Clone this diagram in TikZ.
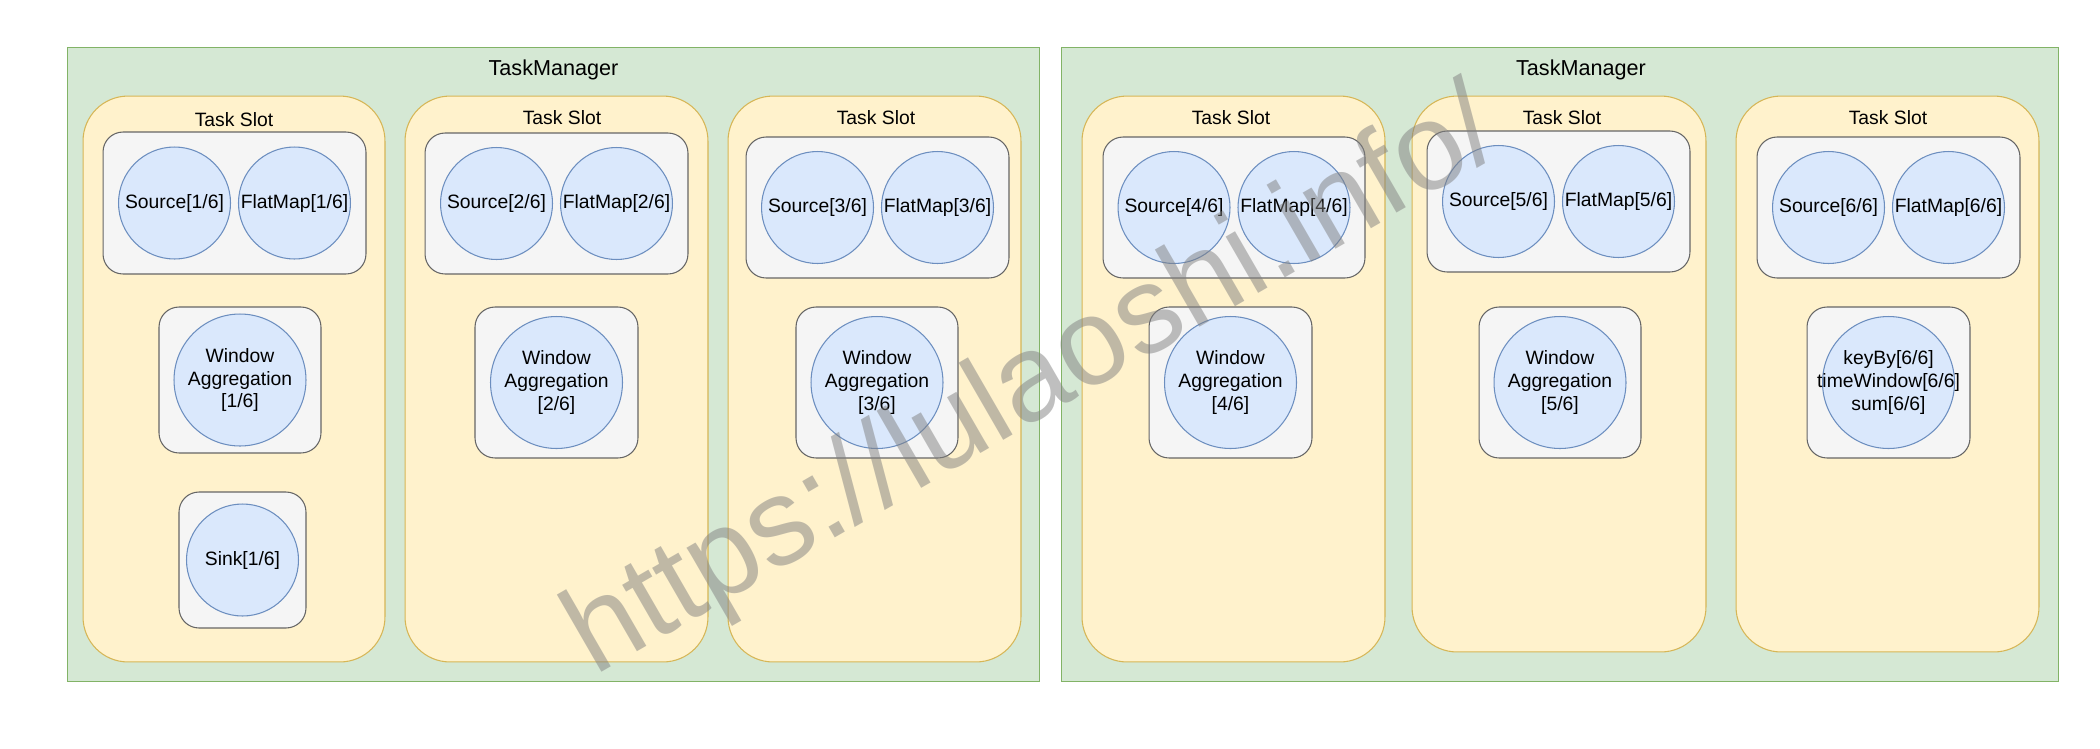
\documentclass[tikz,border=0pt]{standalone}
\usepackage{fontspec}
\setmainfont{Liberation Sans}
\usetikzlibrary{positioning}

\definecolor{tmfill}{HTML}{D5E8D4}
\definecolor{tmline}{HTML}{82B366}
\definecolor{slotfill}{HTML}{FFF2CC}
\definecolor{slotline}{HTML}{D6B656}
\definecolor{grpfill}{HTML}{F5F5F5}
\definecolor{grpline}{HTML}{666666}
\definecolor{opfill}{HTML}{DAE8FC}
\definecolor{opline}{HTML}{6C8EBF}

\tikzset{
    manager/.style={rectangle, draw=tmline, fill=tmfill, line width=0.6pt},
    slot/.style={rectangle, rounded corners=0.9cm, draw=slotline, fill=slotfill, line width=0.6pt},
    group/.style={rectangle, rounded corners=0.4cm, draw=grpline, fill=grpfill, line width=0.6pt},
    op/.style={circle, draw=opline, fill=opfill, line width=0.6pt, minimum size=2.24cm, inner sep=-0.3cm, align=center, font=\fontsize{11}{13}\selectfont},
    win/.style={op, minimum size=2.64cm},
    caption/.style={inner sep=0pt, anchor=base, font=\fontsize{11}{13}\selectfont},
    title/.style={inner sep=0pt, anchor=base, font=\fontsize{12.3}{14}\selectfont},
    stamp/.style={inner sep=0pt, text=gray, text opacity=0.5, font=\fontsize{70}{70}\selectfont}
}

\begin{document}
\begin{tikzpicture}[x=0.02cm, y=-0.02cm]
        \useasboundingbox (0, 0) rectangle (2100, 748);

        % two task managers
        \node[manager, minimum width=19.46cm, minimum height=12.7cm] (tm1) at (553.5, 364.5) {};
        \node[manager, minimum width=19.96cm, minimum height=12.7cm] (tm2) at (1560, 364.5) {};
        \node[title] (tm1label) at (553.5, 75) {TaskManager};
        \node[title] (tm2label) at (1581, 75) {TaskManager};

        % task slots
        \node[slot, minimum width=6.04cm, minimum height=11.32cm] (slot1) at (234, 379) {};
        \node[slot, minimum width=6.06cm, minimum height=11.32cm] (slot2) at (556.5, 379) {};
        \node[slot, minimum width=5.86cm, minimum height=11.32cm] (slot3) at (874.5, 379) {};
        \node[slot, minimum width=6.06cm, minimum height=11.32cm] (slot4) at (1233.5, 379) {};
        \node[slot, minimum width=5.88cm, minimum height=11.12cm] (slot5) at (1559, 374) {};
        \node[slot, minimum width=6.06cm, minimum height=11.12cm] (slot6) at (1887.5, 374) {};
        \node[caption] (slot1label) at (234, 126) {Task Slot};
        \node[caption] (slot2label) at (562, 124) {Task Slot};
        \node[caption] (slot3label) at (876, 124) {Task Slot};
        \node[caption] (slot4label) at (1231, 124) {Task Slot};
        \node[caption] (slot5label) at (1562, 124) {Task Slot};
        \node[caption] (slot6label) at (1888, 124) {Task Slot};

        % source and flatmap
        \node[group, minimum width=5.26cm, minimum height=2.84cm] (grp1) at (234.5, 203) {};
        \node[group, minimum width=5.26cm, minimum height=2.82cm] (grp2) at (556.5, 203.5) {};
        \node[group, minimum width=5.26cm, minimum height=2.82cm] (grp3) at (877.5, 207.5) {};
        \node[group, minimum width=5.24cm, minimum height=2.82cm] (grp4) at (1234, 207.5) {};
        \node[group, minimum width=5.26cm, minimum height=2.82cm] (grp5) at (1558.5, 201.5) {};
        \node[group, minimum width=5.26cm, minimum height=2.82cm] (grp6) at (1888.5, 207.5) {};
        \node[op] (src1) at ([xshift=-1.2cm]grp1.center) {Source[1/6]};
        \node[op] (flat1) at ([xshift=1.2cm]grp1.center) {FlatMap[1/6]};
        \node[op] (src2) at ([xshift=-1.2cm]grp2.center) {Source[2/6]};
        \node[op] (flat2) at ([xshift=1.2cm]grp2.center) {FlatMap[2/6]};
        \node[op] (src3) at ([xshift=-1.2cm]grp3.center) {Source[3/6]};
        \node[op] (flat3) at ([xshift=1.2cm]grp3.center) {FlatMap[3/6]};
        \node[op] (src4) at ([xshift=-1.2cm]grp4.center) {Source[4/6]};
        \node[op] (flat4) at ([xshift=1.2cm]grp4.center) {FlatMap[4/6]};
        \node[op] (src5) at ([xshift=-1.2cm]grp5.center) {Source[5/6]};
        \node[op] (flat5) at ([xshift=1.2cm]grp5.center) {FlatMap[5/6]};
        \node[op] (src6) at ([xshift=-1.2cm]grp6.center) {Source[6/6]};
        \node[op] (flat6) at ([xshift=1.2cm]grp6.center) {FlatMap[6/6]};

        % window aggregation
        \node[group, minimum width=3.24cm, minimum height=2.92cm] (wbox1) at (240, 380) {};
        \node[group, minimum width=3.26cm, minimum height=3.02cm] (wbox2) at (556.5, 382.5) {};
        \node[group, minimum width=3.24cm, minimum height=3.02cm] (wbox3) at (877, 382.5) {};
        \node[group, minimum width=3.26cm, minimum height=3.02cm] (wbox4) at (1230.5, 382.5) {};
        \node[group, minimum width=3.24cm, minimum height=3.02cm] (wbox5) at (1560, 382.5) {};
        \node[group, minimum width=3.26cm, minimum height=3.02cm] (wbox6) at (1888.5, 382.5) {};
        \node[win] (win1) at (wbox1.center) {Window\\Aggregation\\{[1/6]}};
        \node[win] (win2) at (wbox2.center) {Window\\Aggregation\\{[2/6]}};
        \node[win] (win3) at (wbox3.center) {Window\\Aggregation\\{[3/6]}};
        \node[win] (win4) at (wbox4.center) {Window\\Aggregation\\{[4/6]}};
        \node[win] (win5) at (wbox5.center) {Window\\Aggregation\\{[5/6]}};
        \node[win] (win6) at (wbox6.center) {keyBy[6/6]\\timeWindow[6/6]\\sum[6/6]};

        % sink
        \node[group, minimum width=2.54cm, minimum height=2.72cm] (sinkbox) at (242.5, 560) {};
        \node[op] (sink1) at (sinkbox.center) {Sink[1/6]};

        \node[stamp, rotate=30, anchor=base west] (url) at (594, 677) {https://lulaoshi.info/};
    \end{tikzpicture}
\end{document}
